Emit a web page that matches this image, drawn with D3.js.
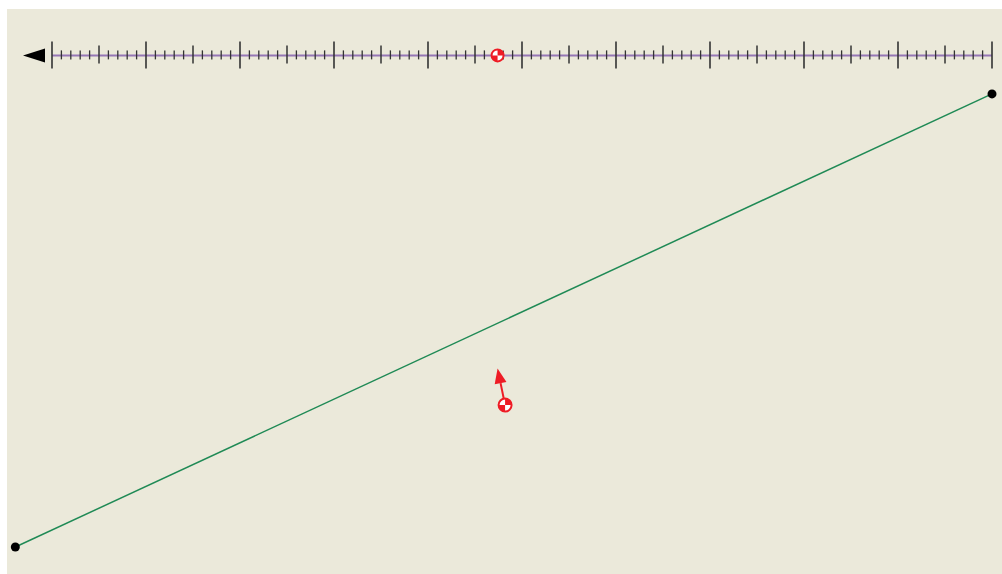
<!DOCTYPE html>
<html><head><meta charset="utf-8">
<script src="https://cdn.jsdelivr.net/npm/d3@7"></script>
<style>html,body{margin:0;padding:0;background:#fff;}svg{display:block;}</style>
</head><body>
<svg id="c" width="1002" height="574"></svg>
<script>
// number line
const lineDomain = [0, 10];
const majorStep = 1, mediumStep = 0.5, minorStep = 0.1;
const markerValue = 4.74;
// plane objects (same units as the number line)
const segX = [-0.39, 10];
const segY = [0, 4.82];
const bodyPoint = [4.82, 1.51];
const arrowTip = [4.74, 1.90];
const numberLineY = 5.23;

const svg = d3.select('#c');
svg.append('rect').attr('x',7).attr('y',9).attr('width',995).attr('height',565).attr('fill','#EBE9DA');

const x = d3.scaleLinear().domain(lineDomain).range([52, 992]);
const y = d3.scaleLinear().domain([0, 5]).range([547, 77]);

const ly = y(numberLineY);
// axis line
svg.append('line').attr('x1',x(0)).attr('x2',x(10)).attr('y1',ly).attr('y2',ly)
  .attr('stroke','#9577b5').attr('stroke-width',2);
// left arrow
svg.append('path').attr('d',`M${x(0)-29},${ly} L${x(0)-7},${ly-7} L${x(0)-7},${ly+7} Z`).attr('fill','#000');

const minor = d3.range(0, 100.5, 1).map(i=>i*minorStep);
const g = svg.append('g');
minor.forEach((v,i)=>{
  let h1, h2, w;
  if (i % 10 === 0) { h1 = 14; h2 = 13; w=1.6; }
  else if (i % 5 === 0) { h1 = 10; h2 = 8; w=1.5; }
  else { h1 = 5; h2 = 4; w=1.3; }
  g.append('line').attr('x1',x(v)).attr('x2',x(v)).attr('y1',ly-h1).attr('y2',ly+h2)
    .attr('stroke','#333').attr('stroke-width',w);
});

function cgSymbol(cx, cy, r){
  const s = svg.append('g').attr('transform',`translate(${cx},${cy})`);
  s.append('circle').attr('r',r).attr('fill','#fff').attr('stroke','#ee1c25').attr('stroke-width',2);
  const arc = d3.arc().innerRadius(0).outerRadius(r);
  s.append('path').attr('d',arc({startAngle:0,endAngle:Math.PI/2})).attr('fill','#ee1c25');
  s.append('path').attr('d',arc({startAngle:Math.PI,endAngle:Math.PI*1.5})).attr('fill','#ee1c25');
}

// green segment
svg.append('line').attr('x1',x(segX[0])).attr('y1',y(segY[0])).attr('x2',x(segX[1])).attr('y2',y(segY[1]))
  .attr('stroke','#1f8a55').attr('stroke-width',1.5);
[0,1].forEach(i=>svg.append('circle').attr('cx',x(segX[i])).attr('cy',y(segY[i])).attr('r',4.5).attr('fill','#000'));

// marker on number line
cgSymbol(x(markerValue)+0, ly, 6);

// arrow
const bx = x(bodyPoint[0]), by = y(bodyPoint[1]);
const tx = x(arrowTip[0]), ty = y(arrowTip[1]);
const ang = Math.atan2(ty-by, tx-bx);
const L = 15, W = 6;
const baseX = tx - L*Math.cos(ang), baseY = ty - L*Math.sin(ang);
svg.append('line').attr('x1',bx).attr('y1',by).attr('x2',baseX).attr('y2',baseY).attr('stroke','#ee1c25').attr('stroke-width',2);
const px = -Math.sin(ang), py = Math.cos(ang);
svg.append('path').attr('d',`M${tx},${ty} L${baseX+W*px},${baseY+W*py} L${baseX-W*px},${baseY-W*py} Z`).attr('fill','#ee1c25');
cgSymbol(bx, by, 6.5);
</script>
</body></html>
